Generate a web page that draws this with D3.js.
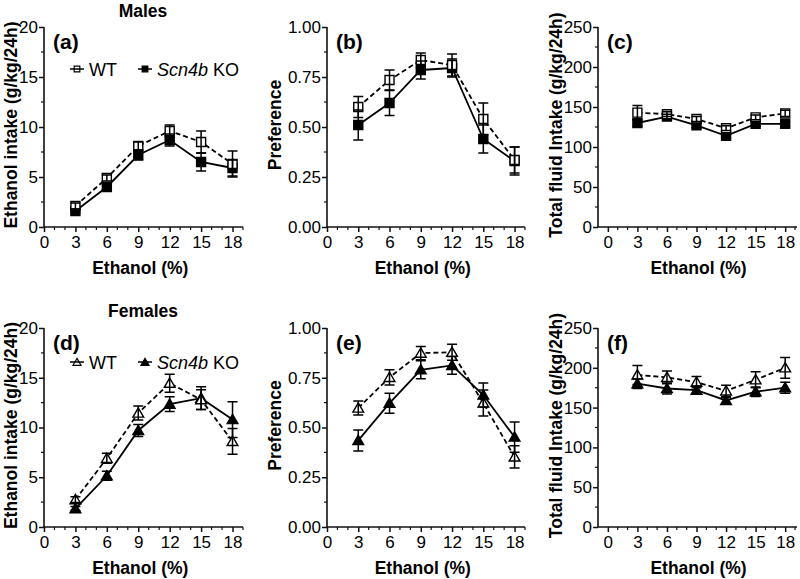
<!DOCTYPE html>
<html><head><meta charset="utf-8">
<script src="https://cdn.jsdelivr.net/npm/d3@7"></script>
<style>
body{margin:0;background:#fff}
svg{display:block}
text{font-family:"Liberation Sans",Arial,Helvetica,sans-serif;fill:#000}
</style>
</head><body><svg id="chart" width="800" height="579"></svg>
<script>
// ---------- data ----------
const concentrations = [3, 6, 9, 12, 15, 18];
const xTickValues = [0, 3, 6, 9, 12, 15, 18];
const intakeTicks = [0, 5, 10, 15, 20];
const prefTicks = [0, 0.25, 0.5, 0.75, 1];
const fluidTicks = [0, 50, 100, 150, 200, 250];
const groupLabels = ["WT", "Scn4b KO"];
const rowTitles = ["Males", "Females"];
const panelLetters = ["(a)", "(b)", "(c)", "(d)", "(e)", "(f)"];
const yTitles = ["Ethanol intake (g/kg/24h)", "Preference", "Total fluid Intake (g/kg/24h)"];
const xTitle = "Ethanol (%)";

// Males
const maleIntakeWT = [2.1, 4.9, 8.1, 9.6, 8.5, 6.3];
const maleIntakeWTErr = [0.3, 0.3, 0.4, 0.6, 1.1, 1.3];
const maleIntakeKO = [1.6, 4.0, 7.2, 8.7, 6.5, 5.9];
const maleIntakeKOErr = [0.2, 0.3, 0.5, 0.6, 0.9, 0.8];
const malePrefWT = [0.60, 0.735, 0.835, 0.81, 0.54, 0.335];
const malePrefWTErr = [0.053, 0.05, 0.035, 0.055, 0.08, 0.065];
const malePrefKO = [0.51, 0.62, 0.785, 0.795, 0.44, 0.33];
const malePrefKOErr = [0.075, 0.062, 0.045, 0.045, 0.07, 0.07];
const maleFluidWT = [143, 141, 135, 123.5, 137, 142];
const maleFluidWTErr = [9, 3, 3, 3, 3, 4];
const maleFluidKO = [130, 138, 127, 114, 129, 129];
const maleFluidKOErr = [4, 3, 3, 3, 3, 3];
// Females
const femaleIntakeWT = [2.75, 6.9, 11.45, 14.45, 12.8, 8.6];
const femaleIntakeWTErr = [0.3, 0.5, 0.7, 0.9, 1.0, 1.3];
const femaleIntakeKO = [1.85, 5.15, 9.7, 12.35, 12.95, 10.8];
const femaleIntakeKOErr = [0.2, 0.45, 0.6, 0.75, 1.15, 1.8];
const femalePrefWT = [0.598, 0.752, 0.874, 0.878, 0.623, 0.352];
const femalePrefWTErr = [0.035, 0.038, 0.033, 0.04, 0.065, 0.056];
const femalePrefKO = [0.435, 0.622, 0.79, 0.812, 0.663, 0.452];
const femalePrefKOErr = [0.053, 0.05, 0.045, 0.045, 0.06, 0.076];
const femaleFluidWT = [191, 188, 182, 171, 185, 200];
const femaleFluidWTErr = [12, 8, 7, 7, 10, 13];
const femaleFluidKO = [180, 174, 172, 159, 170, 175];
const femaleFluidKOErr = [6, 7, 5, 4, 6, 7];

// ---------- layout ----------
const svg = d3.select("#chart");
const cols = [
  {left: 44, right: 243, xDomain: [0, 19], yTitleX: 11},
  {left: 327, right: 525, xDomain: [0, 19], yTitleX: 275},
  {left: 598, right: 797, xDomain: [-1, 19.2], yTitleX: 556}
];
const rows = [{top: 27, bottom: 227}, {top: 328, bottom: 527}];
const yConfigs = [
  {domain: [0, 20], ticks: intakeTicks, fmt: d3.format("d")},
  {domain: [0, 1], ticks: prefTicks, fmt: d3.format(".2f")},
  {domain: [0, 250], ticks: fluidTicks, fmt: d3.format("d")}
];
const seriesData = [
  [[maleIntakeWT, maleIntakeWTErr, maleIntakeKO, maleIntakeKOErr],
   [malePrefWT, malePrefWTErr, malePrefKO, malePrefKOErr],
   [maleFluidWT, maleFluidWTErr, maleFluidKO, maleFluidKOErr]],
  [[femaleIntakeWT, femaleIntakeWTErr, femaleIntakeKO, femaleIntakeKOErr],
   [femalePrefWT, femalePrefWTErr, femalePrefKO, femalePrefKOErr],
   [femaleFluidWT, femaleFluidWTErr, femaleFluidKO, femaleFluidKOErr]]
];
const symbols = [d3.symbolSquare, d3.symbolTriangle];
const symbolSizes = [81, 50];
const legendSymbolSizes = [32, 28];
const axisColor = "#111";

function drawPanel(r, c) {
  const col = cols[c], row = rows[r], yc = yConfigs[c];
  const x = d3.scaleLinear().domain(col.xDomain).range([col.left, col.right]);
  const y = d3.scaleLinear().domain(yc.domain).range([row.bottom, row.top]);
  const g = svg.append("g");

  // axes
  const xAxis = d3.axisBottom(x).tickValues(xTickValues).tickSize(5).tickPadding(3).tickFormat(d3.format("d"));
  const gx = g.append("g").attr("transform", `translate(0,${row.bottom})`).call(xAxis);
  gx.select(".domain").attr("d", `M${col.left},0H${col.right}`);
  const yAxis = d3.axisLeft(y).tickValues(yc.ticks).tickSize(5).tickPadding(1).tickFormat(yc.fmt);
  const gy = g.append("g").attr("transform", `translate(${col.left},0)`).call(yAxis);
  gy.select(".domain").attr("d", `M0,${row.top}V${row.bottom}`);
  [gx, gy].forEach(a => {
    a.selectAll(".domain").attr("stroke", axisColor).attr("stroke-width", 1.6);
    a.selectAll(".tick line").attr("stroke", axisColor).attr("stroke-width", 1.5);
    a.selectAll("text").attr("font-size", 17).attr("fill", "#000")
      .style("font-family", '"Liberation Sans",Arial,sans-serif');
  });
  gx.selectAll(".tick text").attr("dy", null).attr("y", 20.5);
  // minor ticks
  const xMinor = d3.range(Math.ceil(col.xDomain[0]) + 1, Math.floor(col.xDomain[1]) + 1).filter(v => v % 3 !== 0);
  g.append("g").selectAll("line").data(xMinor).join("line")
    .attr("x1", d => x(d)).attr("x2", d => x(d))
    .attr("y1", row.bottom).attr("y2", row.bottom + 3)
    .attr("stroke", axisColor).attr("stroke-width", 1.2);
  const step = yc.ticks[1] - yc.ticks[0];
  const yMinor = yc.ticks.slice(0, -1).map(t => t + step / 2);
  g.append("g").selectAll("line").data(yMinor).join("line")
    .attr("x1", col.left - 3).attr("x2", col.left)
    .attr("y1", d => y(d)).attr("y2", d => y(d))
    .attr("stroke", axisColor).attr("stroke-width", 1.2);

  // titles
  g.append("text").attr("x", (x(0) + x(18)) / 2 + 2).attr("y", row.bottom + 47)
    .attr("text-anchor", "middle").attr("font-weight", "bold").attr("font-size", 17.5).text(xTitle);
  g.append("text").attr("transform", `translate(${col.yTitleX},${(row.top + row.bottom) / 2 - 2}) rotate(-90)`)
    .attr("text-anchor", "middle").attr("dy", "0.35em").attr("font-weight", "bold").attr("font-size", 17.5)
    .text(yTitles[c]);
  g.append("text").attr("x", col.left + 9).attr("y", row.top + 22)
    .attr("font-weight", "bold").attr("font-size", 21).text(panelLetters[r * 3 + c]);

  // series
  const [wt, wtErr, ko, koErr] = seriesData[r][c];
  const groups = [
    {vals: ko, err: koErr, filled: true, dash: null},
    {vals: wt, err: wtErr, filled: false, dash: "5,3"}
  ];
  const line = d3.line().x((d, i) => x(concentrations[i])).y(d => y(d));
  groups.forEach(gr => {
    g.append("path").attr("d", line(gr.vals)).attr("fill", "none")
      .attr("stroke", "#000").attr("stroke-width", 1.8)
      .attr("stroke-dasharray", gr.dash);
  });
  const sym = d3.symbol().type(symbols[r]).size(symbolSizes[r]);
  groups.forEach(gr => {
    g.append("g").selectAll("path").data(gr.vals).join("path")
      .attr("transform", (d, i) => `translate(${x(concentrations[i])},${y(d) + (r === 1 ? 1 : 0)})`)
      .attr("d", sym)
      .attr("fill", gr.filled ? "#000" : "#fff")
      .attr("stroke", "#000").attr("stroke-width", 1.4);
  });
  groups.forEach(gr => {
    const eg = g.append("g").attr("stroke", "#000").attr("stroke-width", 1.5).attr("fill", "none");
    gr.vals.forEach((v, i) => {
      const cx = x(concentrations[i]);
      const y1 = y(v + gr.err[i]), y0 = y(v - gr.err[i]);
      eg.append("path").attr("d", `M${cx},${y1}V${y0}M${cx - 5},${y1}H${cx + 5}M${cx - 5},${y0}H${cx + 5}`);
    });
  });

  // legend (first column only)
  if (c === 0) {
    const ly = r === 0 ? 69 : 362;
    const lsym = d3.symbol().type(symbols[r]).size(legendSymbolSizes[r]);
    const items = [
      {x0: 70, filled: false, label: "WT", tx: 89},
      {x0: 138, filled: true, label: "KO", tx: 157}
    ];
    items.forEach((it, k) => {
      g.append("path").attr("transform", `translate(${it.x0 + 7},${ly + (r === 1 ? 1 : 0)})`).attr("d", lsym)
        .attr("fill", it.filled ? "#000" : "#fff").attr("stroke", "#000").attr("stroke-width", 1.2);
      g.append("line").attr("x1", it.x0).attr("x2", it.x0 + 14).attr("y1", ly).attr("y2", ly)
        .attr("stroke", "#000").attr("stroke-width", 1.5);
      const t = g.append("text").attr("x", it.tx).attr("y", ly + 6.5).attr("font-size", 18);
      if (k === 0) {
        t.text(groupLabels[0]);
      } else {
        t.append("tspan").attr("font-style", "italic").text("Scn4b");
        t.append("tspan").text(" KO");
      }
    });
    g.append("text").attr("x", 143).attr("y", r === 0 ? 17 : 317)
      .attr("text-anchor", "middle").attr("font-weight", "bold").attr("font-size", 17.5).text(rowTitles[r]);
  }
}

for (let r = 0; r < 2; r++) for (let c = 0; c < 3; c++) drawPanel(r, c);
</script>
</body></html>
